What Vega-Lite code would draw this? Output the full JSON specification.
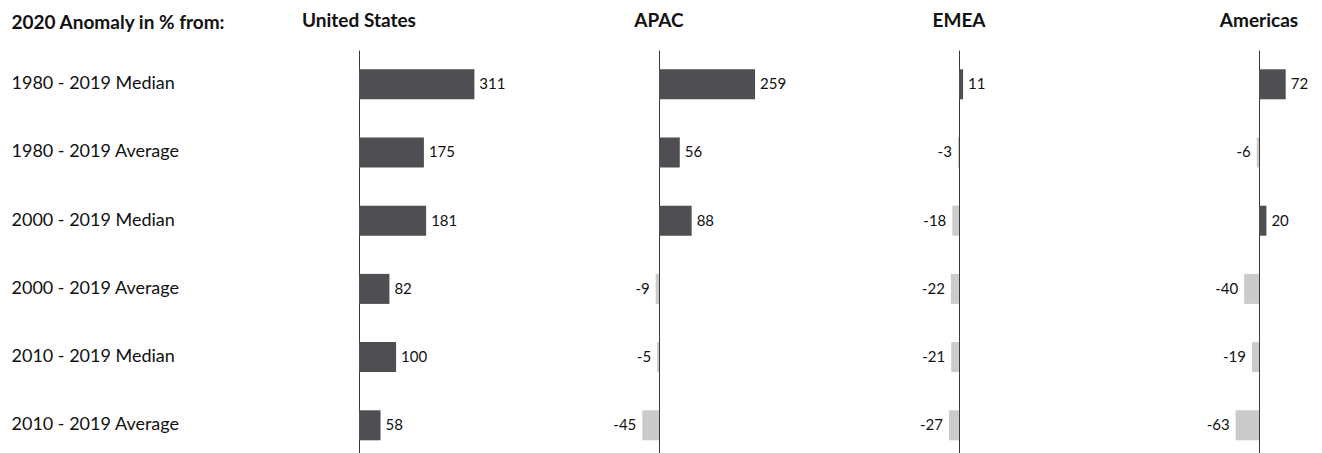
{
  "$schema": "https://vega.github.io/schema/vega-lite/v6.json",
  "padding": {"left": 11, "top": 12, "right": 0, "bottom": 0},
  "background": "white",
  "bounds": "flush",
  "data": {
    "values": [
      {"region": "United States", "period": "1980 - 2019 Median", "value": 311},
      {"region": "United States", "period": "1980 - 2019 Average", "value": 175},
      {"region": "United States", "period": "2000 - 2019 Median", "value": 181},
      {"region": "United States", "period": "2000 - 2019 Average", "value": 82},
      {"region": "United States", "period": "2010 - 2019 Median", "value": 100},
      {"region": "United States", "period": "2010 - 2019 Average", "value": 58},
      {"region": "APAC", "period": "1980 - 2019 Median", "value": 259},
      {"region": "APAC", "period": "1980 - 2019 Average", "value": 56},
      {"region": "APAC", "period": "2000 - 2019 Median", "value": 88},
      {"region": "APAC", "period": "2000 - 2019 Average", "value": -9},
      {"region": "APAC", "period": "2010 - 2019 Median", "value": -5},
      {"region": "APAC", "period": "2010 - 2019 Average", "value": -45},
      {"region": "EMEA", "period": "1980 - 2019 Median", "value": 11},
      {"region": "EMEA", "period": "1980 - 2019 Average", "value": -3},
      {"region": "EMEA", "period": "2000 - 2019 Median", "value": -18},
      {"region": "EMEA", "period": "2000 - 2019 Average", "value": -22},
      {"region": "EMEA", "period": "2010 - 2019 Median", "value": -21},
      {"region": "EMEA", "period": "2010 - 2019 Average", "value": -27},
      {"region": "Americas", "period": "1980 - 2019 Median", "value": 72},
      {"region": "Americas", "period": "1980 - 2019 Average", "value": -6},
      {"region": "Americas", "period": "2000 - 2019 Median", "value": 20},
      {"region": "Americas", "period": "2000 - 2019 Average", "value": -40},
      {"region": "Americas", "period": "2010 - 2019 Median", "value": -19},
      {"region": "Americas", "period": "2010 - 2019 Average", "value": -63}
    ]
  },
  "facet": {
    "column": {
      "field": "region",
      "type": "nominal",
      "sort": ["United States", "APAC", "EMEA", "Americas"],
      "header": {
        "title": null,
        "labelFont": "Lato",
        "labelFontSize": 19,
        "labelFontWeight": "bold",
        "labelColor": "#111111",
        "labelBaseline": "alphabetic",
        "labelPadding": 4
      }
    }
  },
  "spacing": {"column": 200},
  "spec": {
    "width": 100,
    "height": 403,
    "encoding": {
      "y": {
        "field": "period",
        "type": "nominal",
        "sort": null,
        "scale": {"paddingInner": 0.56, "paddingOuter": 0.2346, "align": 0.603},
        "axis": {
          "title": "2020 Anomaly in % from:",
          "titleFont": "Lato",
          "titleFontSize": 19,
          "titleFontWeight": "bold",
          "titleColor": "#111111",
          "titleAngle": 0,
          "titleAlign": "left",
          "titleBaseline": "alphabetic",
          "titleX": -298,
          "titleY": -22,
          "labelAlign": "left",
          "labelPadding": 298,
          "labelFont": "Lato",
          "labelFontSize": 18,
          "labelColor": "#111111",
          "ticks": false,
          "tickSize": 0,
          "domain": false,
          "grid": false
        }
      },
      "x": {
        "field": "value",
        "type": "quantitative",
        "scale": {"domain": [-134.8, 134.8], "nice": false, "zero": false},
        "axis": {
          "title": null,
          "values": [0],
          "labels": false,
          "ticks": false,
          "domain": false,
          "grid": true,
          "gridColor": "#3a3a3a",
          "gridWidth": 1,
          "gridOpacity": 1
        }
      }
    },
    "layer": [
      {
        "mark": {"type": "bar"},
        "encoding": {
          "color": {
            "condition": {"test": "datum.value >= 0", "value": "#4e4e53"},
            "value": "#cbcbcb"
          }
        }
      },
      {
        "transform": [{"filter": "datum.value >= 0"}],
        "mark": {"type": "text", "align": "left", "dx": 5, "font": "Lato", "fontSize": 15, "color": "#111111"},
        "encoding": {"text": {"field": "value", "type": "nominal"}}
      },
      {
        "transform": [{"filter": "datum.value < 0"}],
        "mark": {"type": "text", "align": "right", "dx": -6, "font": "Lato", "fontSize": 15, "color": "#111111"},
        "encoding": {"text": {"field": "value", "type": "nominal"}}
      }
    ]
  },
  "config": {
    "view": {"stroke": null},
    "font": "Lato"
  }
}
